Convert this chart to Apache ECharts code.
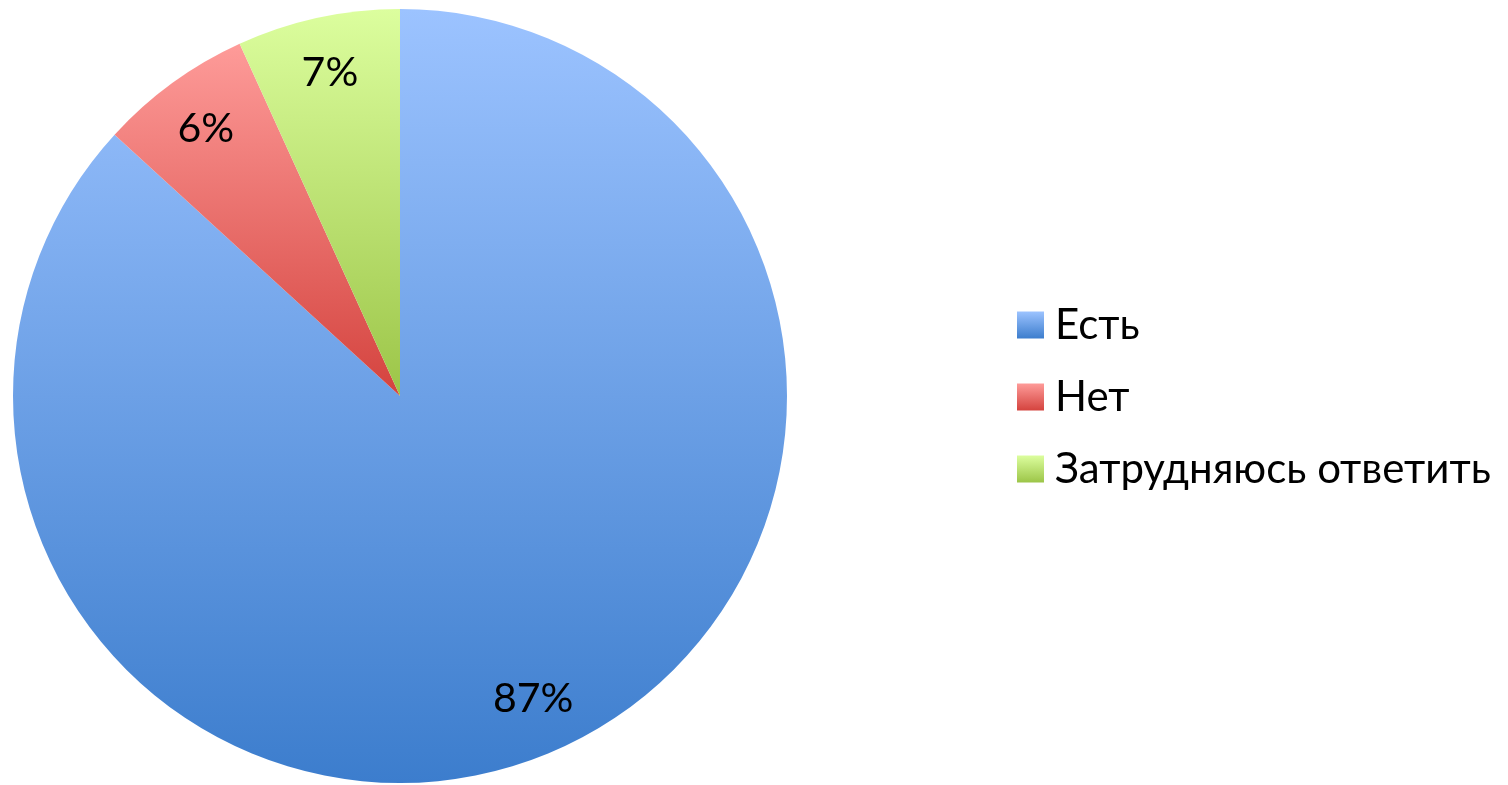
<!DOCTYPE html>
<html>
<head>
<meta charset="utf-8">
<script src="https://cdn.jsdelivr.net/npm/echarts@6/dist/echarts.min.js"></script>
<style>
html,body{margin:0;padding:0;background:#fff;}
#chart{width:1508px;height:785px;}
</style>
</head>
<body>
<div id="chart"></div>
<script>
const categories = ['Есть', 'Нет', 'Затрудняюсь ответить'];
const values = [86.8, 6.4, 6.8];
const topColors = ['#9cc3ff', '#fe9b99', '#dcfe9e'];
const bottomColors = ['#3c7dcd', '#d4433e', '#9cc548'];

const FONT = 'Lato, "Noto Sans", sans-serif';

function grad(i) {
  return {
    type: 'linear', x: 0, y: 0, x2: 0, y2: 1,
    colorStops: [{offset: 0, color: topColors[i]}, {offset: 1, color: bottomColors[i]}]
  };
}

const mainData = categories.map((c, i) => ({name: c, value: values[i], itemStyle: {color: grad(i)}}));
const labelData = categories.map((c, i) => ({name: c, value: values[i]}));

const chart = echarts.init(document.getElementById('chart'), null, {renderer: 'canvas'});
chart.setOption({
  animation: false,
  backgroundColor: '#ffffff',
  legend: {
    orient: 'vertical',
    left: 1017,
    top: 304,
    padding: 0,
    itemWidth: 27,
    itemHeight: 27,
    itemGap: 30,
    icon: 'rect',
    data: categories,
    textStyle: {fontFamily: FONT, fontSize: 42, color: '#000', lineHeight: 42, padding: [0, 0, 0, 6]}
  },
  series: [
    {
      type: 'pie',
      center: [400, 396],
      radius: [0, 387],
      startAngle: 90,
      clockwise: true,
      silent: true,
      label: {show: false},
      labelLine: {show: false},
      data: mainData
    },
    {
      type: 'pie',
      center: [400, 396],
      radius: [268, 387],
      startAngle: 90,
      clockwise: true,
      silent: true,
      avoidLabelOverlap: false,
      itemStyle: {color: 'rgba(0,0,0,0)'},
      label: {
        show: true,
        position: 'inside',
        fontFamily: FONT,
        fontSize: 41,
        color: '#000',
        formatter: p => Math.round(p.value) + '%'
      },
      labelLine: {show: false},
      data: labelData
    }
  ]
});
</script>
</body>
</html>
